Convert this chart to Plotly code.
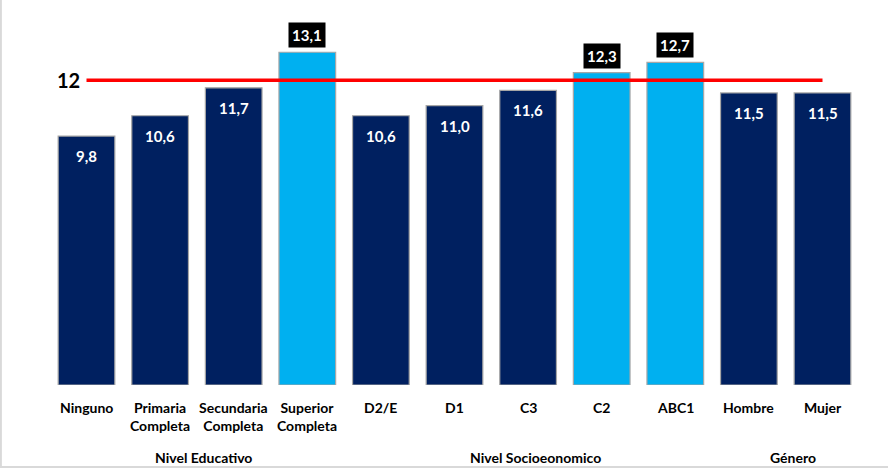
import plotly.graph_objects as go

categories = ["Ninguno", "Primaria<br>Completa", "Secundaria<br>Completa", "Superior<br>Completa",
              "D2/E", "D1", "C3", "C2", "ABC1", "Hombre", "Mujer"]
values = [9.8, 10.6, 11.7, 13.1, 10.6, 11.0, 11.6, 12.3, 12.7, 11.5, 11.5]
highlight = [False, False, False, True, False, False, False, True, True, False, False]
reference_value = 12
groups = ["Nivel Educativo", "Nivel Socioeonomico", "Género"]
group_members = [[0, 1, 2, 3], [4, 5, 6, 7, 8], [9, 10]]

W, H = 888, 469
PLOT_H = 385
PX_PER_UNIT = 25.4
SLOT = 73.6
X0 = 86.5

DARK = "#002060"
LIGHT = "#00B0F0"
FONT = "Lato"

idx = list(range(len(categories)))
colors = [LIGHT if h else DARK for h in highlight]

fig = go.Figure()
fig.add_trace(go.Bar(
    x=idx, y=values, marker=dict(color=colors, line=dict(color="#A6A6A6", width=1.2)),
    width=0.77, hoverinfo="skip", showlegend=False,
))
fig.add_trace(go.Scatter(
    x=idx, y=[reference_value] * len(idx), mode="lines",
    line=dict(color="#FF0000", width=3.5), hoverinfo="skip", showlegend=False,
))

ann = []
for i, (v, h) in enumerate(zip(values, highlight)):
    txt = f"{v:.1f}".replace(".", ",")
    if h:
        ann.append(dict(x=i, y=v, xref="x", yref="y", text=txt, showarrow=False,
                        yanchor="bottom", yshift=4, bgcolor="#000000", borderpad=3,
                        font=dict(family=FONT, size=15, color="white", weight="bold")))
    else:
        ann.append(dict(x=i, y=v, xref="x", yref="y", text=txt, showarrow=False,
                        yanchor="middle", yshift=-20,
                        font=dict(family=FONT, size=15, color="white", weight="bold")))

for i, c in enumerate(categories):
    ann.append(dict(x=i, y=-(397 - PLOT_H) / PLOT_H, xref="x", yref="paper", text=c,
                    showarrow=False, yanchor="top",
                    font=dict(family=FONT, size=14, color="#000000", weight="bold")))

for g, members in zip(groups, group_members):
    cx = sum(members) / len(members)
    ann.append(dict(x=cx, y=-(457 - PLOT_H) / PLOT_H, xref="x", yref="paper", text=g,
                    showarrow=False, yanchor="middle", xshift=7,
                    font=dict(family=FONT, size=14, color="#000000", weight="bold")))

ann.append(dict(x=-0.24, y=reference_value, xref="x", yref="y", text=str(reference_value),
                showarrow=False, xanchor="center", yanchor="middle",
                font=dict(family=FONT, size=20, color="#000000", weight="bold")))

xmin = -X0 / SLOT
xmax = xmin + W / SLOT

fig.update_layout(
    width=W, height=H,
    margin=dict(l=0, r=0, t=0, b=H - PLOT_H, pad=0),
    paper_bgcolor="white", plot_bgcolor="white",
    xaxis=dict(range=[xmin, xmax], showgrid=False, zeroline=False, showticklabels=False,
               showline=False, fixedrange=True),
    yaxis=dict(range=[0, PLOT_H / PX_PER_UNIT], showgrid=False, zeroline=False,
               showticklabels=False, showline=False, fixedrange=True),
    annotations=ann,
    shapes=[
        dict(type="line", xref="paper", yref="paper", x0=0.001, x1=0.001, y0=1, y1=-(467 - PLOT_H) / PLOT_H,
             line=dict(color="#D9D9D9", width=2)),
        dict(type="line", xref="paper", yref="paper", x0=0, x1=1, y0=-(467 - PLOT_H) / PLOT_H,
             y1=-(467 - PLOT_H) / PLOT_H, line=dict(color="#D9D9D9", width=2)),
    ],
)

fig.write_html("out.html", config={"displayModeBar": False},
               post_script="document.body.style.margin='0';document.body.style.overflow='hidden';")
